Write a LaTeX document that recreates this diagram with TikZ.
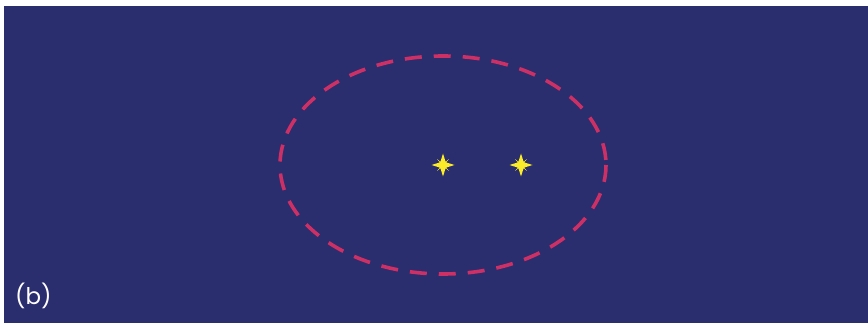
\documentclass[tikz,border=0pt]{standalone}
\usepackage{fontspec}
\setsansfont{Poppins}
\definecolor{skyblue}{RGB}{42,45,110}
\definecolor{ringpink}{RGB}{204,48,100}
\definecolor{staryellow}{RGB}{250,236,40}
\tikzset{
  ring/.style={draw=ringpink, line width=3.6pt, dash pattern=on 17pt off 12pt},
  sparkle/.pic={
    \fill[staryellow] (0,-11.5) -- (2.6,-3.2) -- (6,-6) -- (3.2,-2.6) -- (11.5,0) -- (3.2,2.6)
      -- (6,6) -- (2.6,3.2) -- (0,11.5) -- (-2.6,3.2) -- (-6,6) -- (-3.2,2.6) -- (-11.5,0)
      -- (-3.2,-2.6) -- (-6,-6) -- (-2.6,-3.2) -- cycle;
  },
  tag/.style={text=white, font=\sffamily\fontsize{23}{24}\selectfont, anchor=base west}
}
\begin{document}
\begin{tikzpicture}[x=1pt,y=-1pt]
\useasboundingbox (0,0) rectangle (868,323);
%% ---- sky ----
\fill[skyblue] (4,6) rectangle (868,323);
%% ---- ring and stars ----
\coordinate (centre) at (443,165);
\coordinate (companion) at (521,165);
\draw[ring] (centre) ellipse [x radius=163, y radius=109];
\pic at (centre) {sparkle};
\pic at (companion) {sparkle};
%% ---- panel label ----
\node[tag, inner sep=0pt] (label) at (15,305) {(b)};
\end{tikzpicture}
\end{document}
